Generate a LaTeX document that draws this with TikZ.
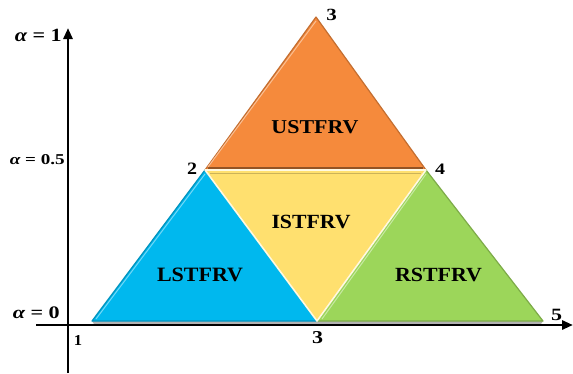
\documentclass[tikz,border=0pt]{standalone}
\usepackage{fontspec}
\setmainfont{Liberation Serif}
\usetikzlibrary{arrows.meta}
\definecolor{torange}{HTML}{F58A3C}
\definecolor{tblue}{HTML}{00B8EE}
\definecolor{tyellow}{HTML}{FFE06F}
\definecolor{tgreen}{HTML}{9CD65A}
\newcommand{\fitbox}[3]{\resizebox{#1bp}{#2bp}{\bfseries #3}}
\begin{document}
\begin{tikzpicture}[x=1bp,y=-1bp,
  axis/.style={line width=2.8bp,-{Triangle[length=11bp,width=9bp]}},
  tri/.style={line width=1.2bp,line join=round},
  lbl/.style={inner sep=0pt},
  num/.style={inner sep=0pt},
  alab/.style={inner sep=0pt,anchor=east}]
\useasboundingbox (0,0) rectangle (573,373);
% vertices
\coordinate (p1) at (92,321);
\coordinate (p2) at (205,170);
\coordinate (p3) at (316,17);
\coordinate (p4) at (426,170);
\coordinate (p5) at (543,321);
\coordinate (q3) at (317,321);
% axes
\coordinate (yb) at (68,373);
\coordinate (yt) at (68,28);
\coordinate (xl) at (36,325);
\coordinate (xr) at (573,325);
% shadow under triangles
\fill[gray!60] (92,321) -- (543,321) -- (541,324) -- (94,324) -- cycle;
% triangles
\filldraw[tri,fill=torange,draw=torange!80!black] (p2) -- (p3) -- (p4) -- cycle;
\filldraw[tri,fill=tblue,draw=tblue!80!black] (p1) -- (p2) -- (q3) -- cycle;
\filldraw[tri,fill=tgreen,draw=tgreen!80!black] (q3) -- (p4) -- (p5) -- cycle;
\filldraw[tri,fill=tyellow,draw=white!80!tyellow,line width=1.6bp] (p2) -- (p4) -- (q3) -- cycle;
% bevel shading
\draw[torange!60!black,line width=1.2bp] (208,168) -- (423,168);
\draw[white!45!torange,line width=1bp] (208,167) -- (316,21);
\draw[white!45!tblue,line width=1bp] (96,319) -- (205,174);
\draw[white!45!tgreen,line width=1bp] (322,319) -- (426,174);
\draw[tyellow!80!black,line width=1bp] (210,173) -- (421,173);
% axes on top
\draw[axis] (yb) -- (yt);
\draw[axis] (xl) -- (xr);
% region labels
\node[lbl] (u) at (315,127) {\fitbox{87}{13}{USTFRV}};
\node[lbl] (i) at (311,221.5) {\fitbox{79}{13.3}{ISTFRV}};
\node[lbl] (l) at (200,275) {\fitbox{86}{13.5}{LSTFRV}};
\node[lbl] (r) at (438.5,275) {\fitbox{87}{13.3}{RSTFRV}};
% vertex labels
\node[num] (n3a) at (331.5,15) {\fitbox{10.5}{11.3}{3}};
\node[num] (n2) at (192,169) {\fitbox{10}{11.5}{2}};
\node[num] (n4) at (440,169) {\fitbox{10}{10.5}{4}};
\node[num] (n5) at (556.5,315) {\fitbox{11}{11.3}{5}};
\node[num] (n3b) at (317.5,338) {\fitbox{11}{12}{3}};
\node[num] (n1) at (78,340) {\fitbox{8.3}{10}{1}};
% alpha labels
\node[alab] (a1) at (62,35.5) {\fitbox{47}{12.3}{{\itshape α} = 1}};
\node[alab] (a05) at (65,160) {\fitbox{55}{10}{{\itshape α} = 0.5}};
\node[alab] (a0) at (60,312.5) {\fitbox{47}{11.7}{{\itshape α} = 0}};
\end{tikzpicture}
\end{document}
